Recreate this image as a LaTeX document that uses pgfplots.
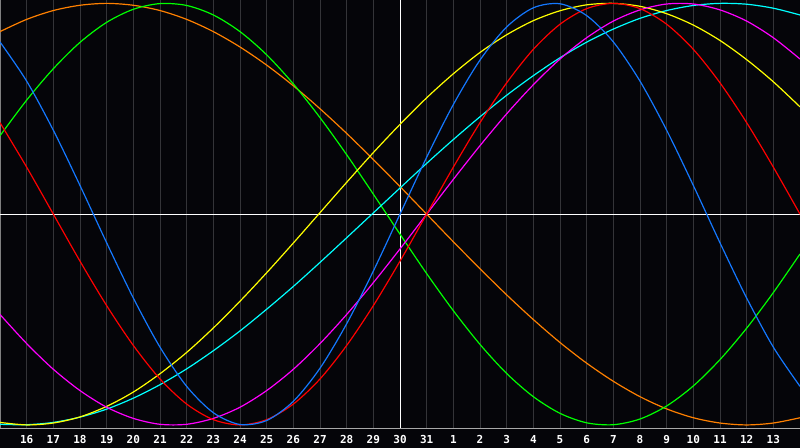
\documentclass[border=0pt]{standalone}
\usepackage{pgfplots}
\pgfplotsset{compat=1.18}
\usepackage{pgfplotstable}
\usepackage{fontspec}
\newfontfamily\lblfont{DejaVu Sans Mono}

\definecolor{bgcol}{RGB}{5,5,9}
\definecolor{gridcol}{RGB}{52,52,56}
\definecolor{framecol}{RGB}{128,128,128}
\definecolor{basecol}{RGB}{168,168,168}
\definecolor{cphys}{RGB}{20,120,255}
\definecolor{cemo}{RGB}{255,0,0}
\definecolor{cint}{RGB}{0,255,0}
\definecolor{cintu}{RGB}{255,0,255}
\definecolor{caest}{RGB}{255,255,0}
\definecolor{caware}{RGB}{255,128,0}
\definecolor{cspir}{RGB}{0,255,255}

% u = slot index (0 = day 15, 15 = day 30), values of each cycle
\pgfplotstableread{
u  phys    emo     intel   intu    aest    aware   spir
0   0.817  0.434   0.372  -0.476  -0.988   0.866  -0.997
1   0.631  0.223   0.541  -0.614  -1.000   0.924  -0.999
2   0.398  0.000   0.690  -0.736  -0.991   0.966  -0.988
3   0.136 -0.223   0.815  -0.837  -0.962   0.991  -0.963
4  -0.136 -0.434   0.910  -0.916  -0.912   1.000  -0.925
5  -0.398 -0.623   0.972  -0.969  -0.844   0.991  -0.873
6  -0.631 -0.782   0.999  -0.997  -0.757   0.966  -0.809
7  -0.817 -0.901   0.990  -0.997  -0.656   0.924  -0.734
8  -0.942 -0.975   0.945  -0.969  -0.540   0.866  -0.648
9  -0.998 -1.000   0.866  -0.916  -0.413   0.793  -0.554
10 -0.979 -0.975   0.756  -0.837  -0.278   0.707  -0.451
11 -0.888 -0.901   0.618  -0.736  -0.137   0.609  -0.343
12 -0.731 -0.782   0.458  -0.614   0.007   0.500  -0.229
13 -0.520 -0.623   0.282  -0.476   0.151   0.383  -0.112
14 -0.270 -0.434   0.095  -0.325   0.292   0.259   0.006
15  0.000 -0.223  -0.095  -0.165   0.426   0.131   0.124
16  0.270  0.000  -0.282   0.000   0.552   0.000   0.241
17  0.520  0.223  -0.458   0.165   0.666  -0.131   0.354
18  0.731  0.434  -0.618   0.325   0.767  -0.259   0.462
19  0.888  0.623  -0.756   0.476   0.851  -0.383   0.564
20  0.979  0.782  -0.866   0.614   0.918  -0.500   0.657
21  0.998  0.901  -0.945   0.736   0.965  -0.609   0.742
22  0.942  0.975  -0.990   0.837   0.993  -0.707   0.816
23  0.817  1.000  -0.999   0.916   1.000  -0.793   0.878
24  0.631  0.975  -0.972   0.969   0.986  -0.866   0.929
25  0.398  0.901  -0.910   0.997   0.951  -0.924   0.966
26  0.136  0.782  -0.815   0.997   0.897  -0.966   0.990
27 -0.136  0.623  -0.690   0.969   0.824  -0.991   1.000
28 -0.398  0.434  -0.541   0.916   0.733  -1.000   0.996
29 -0.631  0.223  -0.372   0.837   0.628  -0.991   0.977
30 -0.817  0.000  -0.189   0.736   0.509  -0.966   0.945
}\cycles

\begin{document}
\begin{tikzpicture}
\fill[bgcol] (0,0) rectangle (800bp,448bp);
\begin{axis}[
    at={(0,19.7bp)}, anchor=south west,
    scale only axis,
    width=800bp, height=428.3bp,
    xmin=0, xmax=30,
    ymin=-1.016, ymax=1.016,
    axis line style={draw=none},
    xtick={1,...,29},
    xticklabels={16,17,18,19,20,21,22,23,24,25,26,27,28,29,30,31,1,2,3,4,5,6,7,8,9,10,11,12,13},
    ytick=\empty,
    major tick length=0pt,
    xmajorgrids,
    grid style={gridcol, line width=1bp},
    xticklabel style={anchor=base, yshift=-15.3bp, inner sep=0pt, text=white,
        font=\lblfont\bfseries\fontsize{11bp}{13bp}\selectfont},
    every axis plot/.append style={smooth, line width=1.2bp, no markers},
]
\draw[framecol, line width=1bp] (rel axis cs:0,0) -- (rel axis cs:0,1) -- (rel axis cs:1,1);
\draw[basecol, line width=1.2bp] (rel axis cs:0,0) -- (rel axis cs:1,0);
\draw[white, line width=0.9bp] (axis cs:15,-1.016) -- (axis cs:15,1.016);
\draw[white, line width=0.9bp] (axis cs:0,0) -- (axis cs:30,0);

\addplot[caware] table[x=u, y=aware] {\cycles};
\addplot[cint]   table[x=u, y=intel] {\cycles};
\addplot[cspir]  table[x=u, y=spir]  {\cycles};
\addplot[caest]  table[x=u, y=aest]  {\cycles};
\addplot[cintu]  table[x=u, y=intu]  {\cycles};
\addplot[cemo]   table[x=u, y=emo]   {\cycles};
\addplot[cphys]  table[x=u, y=phys]  {\cycles};
\end{axis}
\pgfresetboundingbox
\useasboundingbox (0,0) rectangle (800bp,448bp);
\end{tikzpicture}
\end{document}
